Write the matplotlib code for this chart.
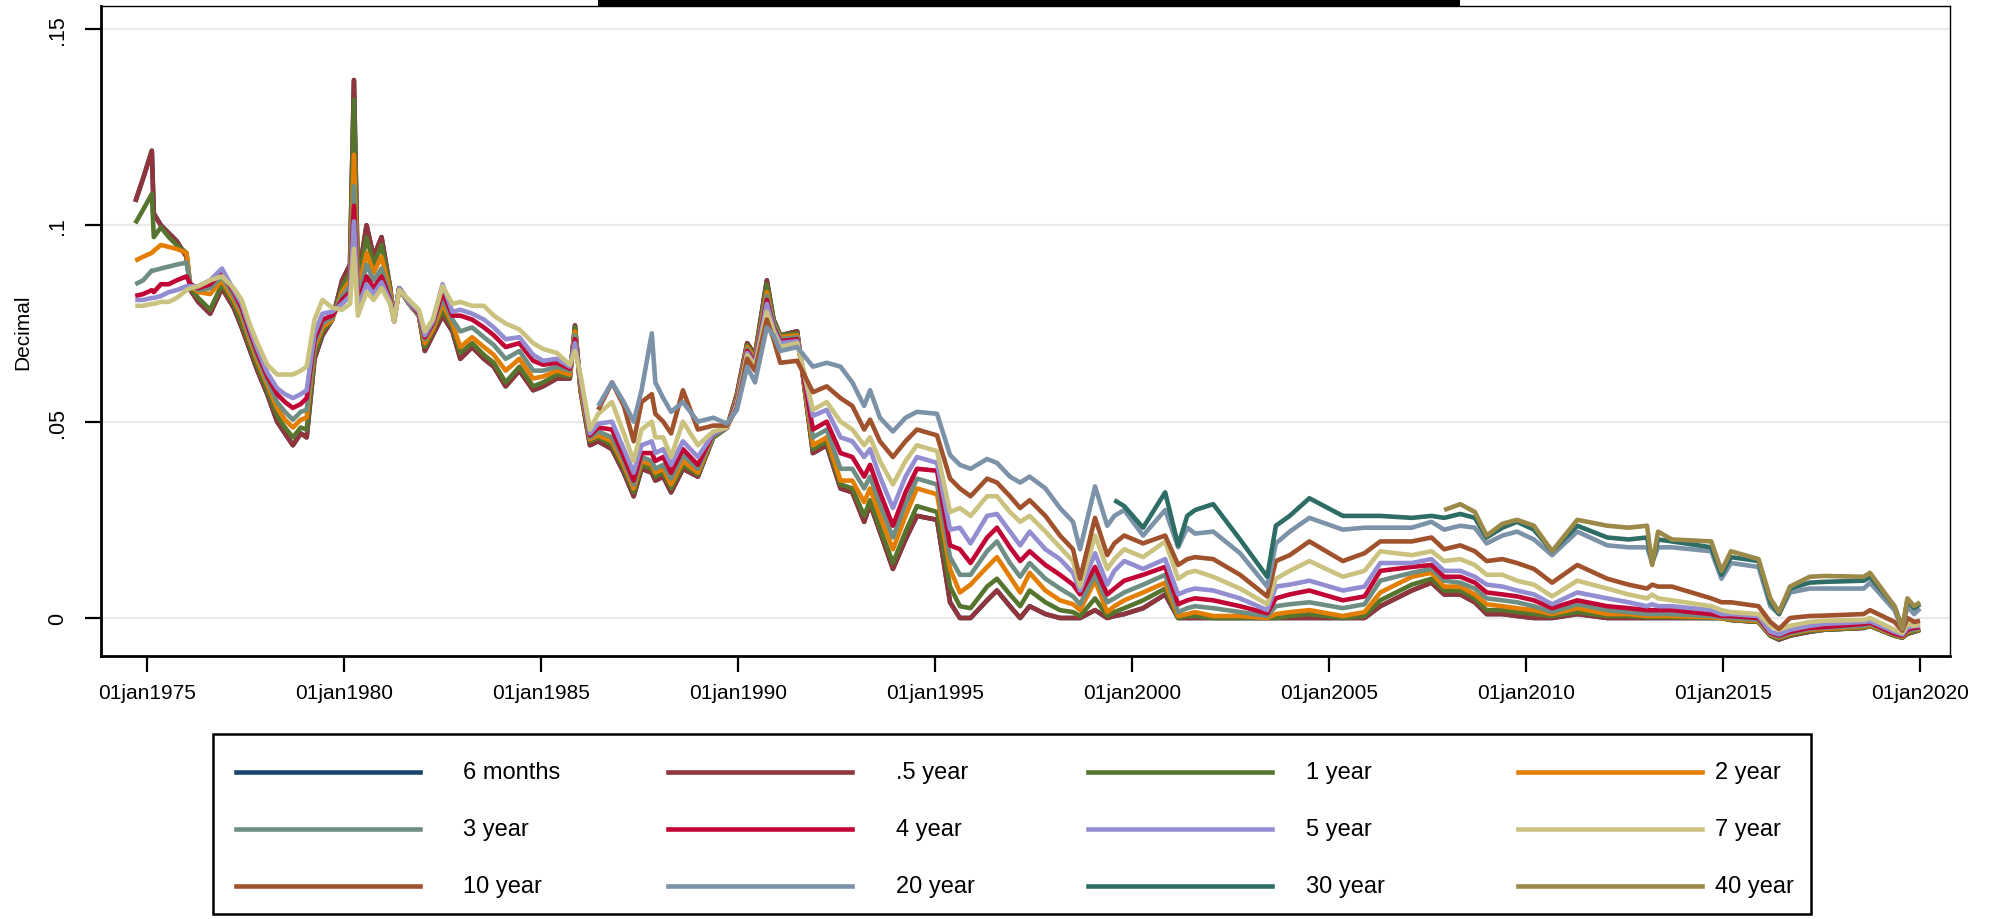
import numpy as np
import matplotlib
matplotlib.use("Agg")
import matplotlib.pyplot as plt
from matplotlib.lines import Line2D
from matplotlib.patches import Rectangle

plt.rcParams['font.family'] = ['Liberation Sans', 'DejaVu Sans']

# Observation dates (decimal years)
dates = [
    1974.70, 1974.90, 1975.12, 1975.17, 1975.35, 1975.55, 1975.75, 1976.00, 1976.10, 1976.30,
    1976.60, 1976.90, 1977.20, 1977.40, 1977.60, 1977.80, 1978.05, 1978.30, 1978.50, 1978.70,
    1978.90, 1979.05, 1979.25, 1979.45, 1979.70, 1979.95, 1980.15, 1980.25, 1980.35, 1980.57,
    1980.75, 1980.95, 1981.17, 1981.27, 1981.40, 1981.65, 1981.90, 1982.05, 1982.25, 1982.50,
    1982.75, 1982.95, 1983.25, 1983.55, 1983.80, 1984.10, 1984.45, 1984.80, 1985.05, 1985.40,
    1985.73, 1985.86, 1986.00, 1986.24, 1986.45, 1986.80, 1987.10, 1987.35, 1987.55, 1987.81,
    1987.90, 1988.10, 1988.30, 1988.60, 1988.98, 1989.37, 1989.72, 1989.97, 1990.23, 1990.43,
    1990.73, 1990.90, 1991.07, 1991.50, 1991.90, 1992.25, 1992.60, 1992.90, 1993.20, 1993.35,
    1993.60, 1993.93, 1994.25, 1994.54, 1995.05, 1995.38, 1995.63, 1995.90, 1996.32, 1996.57,
    1996.90, 1997.16, 1997.40, 1997.80, 1998.17, 1998.50, 1998.68, 1999.06, 1999.37, 1999.55,
    1999.80, 2000.28, 2000.84, 2001.17, 2001.40, 2001.60, 2002.06, 2002.74, 2003.43, 2003.65,
    2004.00, 2004.50, 2005.35, 2005.90, 2006.30, 2007.10, 2007.60, 2007.92, 2008.33, 2008.70,
    2009.00, 2009.40, 2009.77, 2010.20, 2010.66, 2011.30, 2012.06, 2012.60, 2013.07, 2013.20,
    2013.35, 2013.70, 2014.70, 2014.96, 2015.20, 2015.90, 2016.20, 2016.42, 2016.70, 2017.20,
    2017.56, 2018.57, 2018.73, 2019.35, 2019.55, 2019.68, 2019.85, 2020.00,
]

# Yields in percent; longer maturities begin later and run to the last date
half_year = [
    10.6, 11.2, 11.9, 10.3, 10.0, 9.8, 9.6, 9.2, 8.35, 8.05,
    7.75, 8.4, 7.9, 7.4, 6.85, 6.3, 5.7, 5.0, 4.7, 4.4,
    4.7, 4.6, 6.6, 7.2, 7.6, 8.6, 9.0, 13.7, 8.6, 10.0,
    9.2, 9.7, 8.4, 7.6, 8.4, 8.0, 7.7, 6.8, 7.2, 7.7,
    7.3, 6.6, 6.9, 6.6, 6.4, 5.9, 6.3, 5.8, 5.9, 6.1,
    6.1, 7.45, 5.8, 4.4, 4.5, 4.3, 3.7, 3.1, 3.8, 3.7,
    3.5, 3.6, 3.2, 3.8, 3.6, 4.6, 4.85, 5.7, 7.0, 6.7,
    8.6, 7.6, 7.2, 7.3, 4.2, 4.4, 3.3, 3.2, 2.45, 2.9,
    2.2, 1.25, 2.0, 2.6, 2.5, 0.4, 0.0, 0.0, 0.45, 0.7,
    0.3, 0.0, 0.3, 0.1, 0.0, 0.0, 0.0, 0.2, 0.0, 0.05,
    0.1, 0.25, 0.6, 0.0, 0.0, 0.0, 0.0, 0.0, 0.0, 0.0,
    0.0, 0.0, 0.0, 0.0, 0.3, 0.7, 0.9, 0.6, 0.6, 0.4,
    0.1, 0.1, 0.05, 0.0, 0.0, 0.1, 0.0, 0.0, 0.0, 0.0,
    0.0, 0.0, 0.0, 0.0, -0.05, -0.1, -0.45, -0.55, -0.45, -0.35,
    -0.3, -0.25, -0.2, -0.45, -0.5, -0.4, -0.35, -0.3,
]
# the 6-month series coincides with the .5-year series
six_months = list(half_year)
one_year = [
    10.05, 10.4, 10.8, 9.7, 9.95, 9.7, 9.5, 9.3, 8.4, 8.15,
    7.85, 8.5, 8.0, 7.5, 6.95, 6.4, 5.8, 5.15, 4.85, 4.6,
    4.85, 4.8, 6.7, 7.3, 7.6, 8.45, 8.8, 13.2, 8.5, 9.7,
    9.0, 9.5, 8.4, 7.6, 8.4, 8.0, 7.7, 6.9, 7.3, 7.85,
    7.4, 6.75, 7.0, 6.7, 6.5, 6.0, 6.4, 5.9, 6.0, 6.2,
    6.15, 7.4, 5.85, 4.5, 4.6, 4.4, 3.8, 3.2, 3.9, 3.8,
    3.6, 3.7, 3.3, 3.9, 3.65, 4.6, 4.85, 5.65, 6.95, 6.65,
    8.5, 7.6, 7.2, 7.25, 4.3, 4.5, 3.4, 3.3, 2.6, 3.0,
    2.3, 1.4, 2.2, 2.85, 2.7, 0.8, 0.3, 0.25, 0.8, 1.0,
    0.6, 0.3, 0.7, 0.4, 0.2, 0.15, 0.05, 0.5, 0.05, 0.15,
    0.25, 0.45, 0.75, 0.0, 0.05, 0.05, 0.0, 0.0, 0.0, 0.0,
    0.05, 0.1, 0.0, 0.05, 0.45, 0.85, 1.0, 0.7, 0.7, 0.5,
    0.2, 0.2, 0.15, 0.1, 0.05, 0.15, 0.05, 0.05, 0.02, 0.02,
    0.02, 0.02, 0.0, 0.0, -0.05, -0.1, -0.45, -0.53, -0.43, -0.33,
    -0.3, -0.25, -0.2, -0.45, -0.5, -0.38, -0.35, -0.3,
]
two_year = [
    9.1, 9.2, 9.3, 9.35, 9.5, 9.45, 9.4, 9.3, 8.45, 8.3,
    8.25, 8.6, 8.1, 7.7, 7.1, 6.55, 5.95, 5.35, 5.05, 4.85,
    5.05, 5.1, 6.9, 7.4, 7.6, 8.3, 8.6, 11.8, 8.3, 9.3,
    8.8, 9.2, 8.3, 7.6, 8.4, 8.0, 7.7, 7.0, 7.35, 8.0,
    7.5, 6.9, 7.15, 6.9, 6.7, 6.3, 6.6, 6.1, 6.15, 6.3,
    6.2, 7.3, 5.9, 4.55, 4.65, 4.5, 3.9, 3.3, 4.0, 3.9,
    3.7, 3.8, 3.4, 4.0, 3.7, 4.65, 4.85, 5.6, 6.9, 6.6,
    8.3, 7.5, 7.15, 7.2, 4.4, 4.6, 3.5, 3.5, 2.95, 3.3,
    2.6, 1.75, 2.6, 3.3, 3.15, 1.25, 0.65, 0.85, 1.3, 1.55,
    1.05, 0.65, 1.15, 0.7, 0.45, 0.35, 0.2, 0.95, 0.15, 0.3,
    0.45, 0.65, 0.9, 0.05, 0.1, 0.15, 0.05, 0.05, 0.0, 0.1,
    0.15, 0.2, 0.05, 0.15, 0.65, 1.05, 1.15, 0.8, 0.8, 0.6,
    0.35, 0.3, 0.25, 0.2, 0.1, 0.25, 0.1, 0.1, 0.05, 0.05,
    0.05, 0.05, 0.02, 0.0, -0.03, -0.08, -0.42, -0.5, -0.4, -0.3,
    -0.28, -0.22, -0.18, -0.43, -0.48, -0.35, -0.3, -0.28,
]
three_year = [
    8.5, 8.6, 8.85, 8.85, 8.9, 8.95, 9.0, 9.05, 8.5, 8.35,
    8.4, 8.7, 8.2, 7.8, 7.2, 6.65, 6.05, 5.5, 5.25, 5.05,
    5.25, 5.3, 7.0, 7.5, 7.65, 8.2, 8.45, 11.0, 8.1, 9.0,
    8.6, 8.9, 8.2, 7.6, 8.4, 8.0, 7.7, 7.1, 7.45, 8.15,
    7.6, 7.3, 7.4, 7.15, 6.95, 6.6, 6.8, 6.3, 6.3, 6.4,
    6.3, 7.2, 6.0, 4.6, 4.75, 4.6, 4.0, 3.4, 4.1, 4.0,
    3.8, 3.9, 3.55, 4.15, 3.8, 4.65, 4.85, 5.55, 6.85, 6.55,
    8.2, 7.5, 7.1, 7.15, 4.6, 4.8, 3.8, 3.8, 3.3, 3.6,
    2.9, 2.05, 2.9, 3.55, 3.4, 1.55, 1.1, 1.1, 1.7, 1.95,
    1.4, 1.05, 1.4, 1.0, 0.75, 0.55, 0.35, 1.1, 0.4, 0.5,
    0.65, 0.85, 1.1, 0.15, 0.25, 0.3, 0.25, 0.15, 0.05, 0.3,
    0.35, 0.4, 0.25, 0.35, 0.95, 1.15, 1.25, 0.95, 0.9, 0.75,
    0.5, 0.45, 0.4, 0.3, 0.15, 0.35, 0.2, 0.15, 0.1, 0.1,
    0.1, 0.1, 0.05, 0.02, 0.0, -0.05, -0.4, -0.48, -0.38, -0.28,
    -0.25, -0.2, -0.15, -0.42, -0.46, -0.32, -0.3, -0.25,
]
four_year = [
    8.2, 8.25, 8.35, 8.3, 8.5, 8.5, 8.6, 8.7, 8.5, 8.4,
    8.5, 8.8, 8.3, 7.9, 7.3, 6.75, 6.15, 5.7, 5.5, 5.35,
    5.45, 5.6, 7.1, 7.6, 7.7, 8.1, 8.3, 10.5, 8.0, 8.7,
    8.4, 8.7, 8.1, 7.55, 8.4, 8.05, 7.75, 7.15, 7.5, 8.3,
    7.7, 7.7, 7.6, 7.4, 7.2, 6.9, 7.0, 6.55, 6.45, 6.5,
    6.35, 7.1, 6.05, 4.65, 4.85, 4.8, 4.1, 3.5, 4.2, 4.2,
    4.0, 4.1, 3.7, 4.3, 3.9, 4.7, 4.85, 5.5, 6.8, 6.5,
    8.1, 7.4, 7.05, 7.1, 4.8, 5.0, 4.2, 4.1, 3.6, 3.9,
    3.2, 2.35, 3.2, 3.8, 3.75, 1.85, 1.75, 1.4, 2.05, 2.3,
    1.8, 1.45, 1.7, 1.35, 1.1, 0.85, 0.6, 1.3, 0.6, 0.75,
    0.95, 1.1, 1.3, 0.35, 0.45, 0.5, 0.45, 0.3, 0.12, 0.5,
    0.6, 0.7, 0.45, 0.55, 1.2, 1.3, 1.35, 1.05, 1.05, 0.9,
    0.65, 0.6, 0.55, 0.45, 0.25, 0.45, 0.3, 0.25, 0.2, 0.2,
    0.2, 0.2, 0.1, 0.05, 0.05, 0.0, -0.38, -0.45, -0.35, -0.25,
    -0.23, -0.15, -0.12, -0.4, -0.45, -0.3, -0.25, -0.23,
]
five_year = [
    8.1, 8.1, 8.15, 8.15, 8.2, 8.3, 8.35, 8.45, 8.45, 8.45,
    8.6, 8.9, 8.35, 8.0, 7.4, 6.85, 6.25, 5.85, 5.7, 5.6,
    5.7, 5.8, 7.25, 7.75, 7.8, 8.0, 8.2, 10.1, 7.9, 8.5,
    8.25, 8.55, 8.05, 7.55, 8.4, 8.05, 7.8, 7.2, 7.55, 8.5,
    7.8, 7.85, 7.75, 7.6, 7.4, 7.1, 7.15, 6.7, 6.55, 6.6,
    6.4, 7.0, 6.1, 4.7, 4.95, 5.0, 4.3, 3.7, 4.4, 4.5,
    4.2, 4.3, 3.9, 4.5, 4.1, 4.7, 4.85, 5.45, 6.75, 6.45,
    8.0, 7.35, 7.0, 7.05, 5.15, 5.3, 4.6, 4.5, 4.1, 4.3,
    3.6, 2.8, 3.6, 4.1, 3.95, 2.25, 2.3, 1.9, 2.6, 2.65,
    2.2, 1.85, 2.2, 1.75, 1.5, 1.15, 0.7, 1.65, 0.85, 1.2,
    1.45, 1.25, 1.5, 0.6, 0.7, 0.75, 0.7, 0.5, 0.2, 0.8,
    0.85, 0.95, 0.7, 0.8, 1.4, 1.4, 1.5, 1.2, 1.2, 1.05,
    0.85, 0.8, 0.7, 0.6, 0.35, 0.65, 0.5, 0.4, 0.3, 0.35,
    0.3, 0.3, 0.2, 0.1, 0.1, 0.05, -0.35, -0.42, -0.3, -0.2,
    -0.15, -0.1, -0.08, -0.35, -0.42, -0.25, -0.2, -0.2,
]
seven_year = [
    7.95, 7.95, 8.0, 8.0, 8.05, 8.05, 8.15, 8.35, 8.4, 8.45,
    8.6, 8.7, 8.4, 8.1, 7.5, 7.0, 6.45, 6.2, 6.2, 6.2,
    6.3, 6.4, 7.6, 8.1, 7.9, 7.85, 8.0, 9.4, 7.7, 8.3,
    8.1, 8.4, 8.0, 7.55, 8.35, 8.1, 7.85, 7.3, 7.6, 8.45,
    8.0, 8.05, 7.95, 7.95, 7.7, 7.5, 7.35, 7.0, 6.85, 6.75,
    6.45, 6.8, 6.2, 4.8, 5.2, 5.5, 4.7, 4.0, 4.8, 5.0,
    4.6, 4.6, 4.1, 5.0, 4.4, 4.75, 4.85, 5.4, 6.7, 6.4,
    7.8, 7.3, 6.9, 7.0, 5.3, 5.5, 5.0, 4.8, 4.4, 4.6,
    4.0, 3.4, 4.0, 4.4, 4.25, 2.7, 2.8, 2.6, 3.1, 3.1,
    2.7, 2.45, 2.6, 2.2, 1.8, 1.45, 0.8, 2.1, 1.25, 1.5,
    1.75, 1.55, 1.95, 1.0, 1.15, 1.2, 1.05, 0.75, 0.35, 1.0,
    1.2, 1.45, 1.05, 1.2, 1.7, 1.6, 1.7, 1.45, 1.5, 1.35,
    1.1, 1.1, 0.95, 0.85, 0.55, 0.95, 0.75, 0.6, 0.5, 0.6,
    0.5, 0.45, 0.3, 0.2, 0.15, 0.1, -0.2, -0.3, -0.2, -0.1,
    -0.07, -0.05, 0.0, -0.3, -0.38, -0.15, -0.2, -0.15,
]
ten_year = [
    5.3, 6.0, 5.4, 4.5, 5.5, 5.7,
    5.2, 5.0, 4.7, 5.8, 4.8, 4.9, 4.9, 5.35, 6.6, 6.3,
    7.6, 7.1, 6.5, 6.55, 5.75, 5.9, 5.6, 5.4, 4.8, 5.05,
    4.5, 4.1, 4.5, 4.8, 4.65, 3.55, 3.3, 3.1, 3.55, 3.45,
    3.1, 2.8, 3.0, 2.6, 2.1, 1.75, 1.0, 2.55, 1.6, 1.9,
    2.1, 1.9, 2.1, 1.35, 1.5, 1.55, 1.5, 1.1, 0.55, 1.45,
    1.6, 1.95, 1.45, 1.65, 1.95, 1.95, 2.05, 1.75, 1.85, 1.7,
    1.45, 1.5, 1.4, 1.25, 0.9, 1.35, 1.0, 0.85, 0.75, 0.85,
    0.8, 0.8, 0.5, 0.4, 0.4, 0.3, -0.1, -0.28, 0.0, 0.05,
    0.06, 0.1, 0.2, -0.1, -0.32, 0.0, -0.1, -0.07,
]
twenty_year = [
    5.4, 6.0, 5.5, 5.0, 5.8, 7.25,
    6.0, 5.6, 5.25, 5.5, 5.0, 5.1, 4.95, 5.3, 6.4, 6.0,
    7.4, 7.2, 6.8, 6.9, 6.4, 6.5, 6.4, 6.0, 5.4, 5.8,
    5.1, 4.75, 5.1, 5.25, 5.2, 4.15, 3.9, 3.8, 4.05, 3.95,
    3.6, 3.45, 3.6, 3.3, 2.8, 2.45, 1.75, 3.35, 2.35, 2.6,
    2.75, 2.1, 2.75, 1.8, 2.3, 2.15, 2.2, 1.65, 0.8, 1.9,
    2.2, 2.55, 2.25, 2.3, 2.3, 2.3, 2.45, 2.25, 2.35, 2.3,
    1.9, 2.1, 2.2, 2.0, 1.6, 2.2, 1.85, 1.8, 1.8, 1.4,
    1.8, 1.8, 1.7, 1.0, 1.4, 1.3, 0.3, 0.1, 0.65, 0.75,
    0.75, 0.75, 0.9, 0.2, -0.28, 0.3, 0.1, 0.24,
]
thirty_year = [
    3.0,
    2.85, 2.3, 3.2, 1.85, 2.6, 2.75, 2.9, 2.0, 1.05, 2.35,
    2.6, 3.05, 2.6, 2.6, 2.6, 2.55, 2.6, 2.55, 2.65, 2.55,
    2.05, 2.3, 2.45, 2.25, 1.7, 2.35, 2.05, 2.0, 2.05, 1.4,
    2.0, 1.95, 1.8, 1.1, 1.55, 1.45, 0.4, 0.1, 0.75, 0.9,
    0.92, 0.95, 1.05, 0.3, -0.25, 0.45, 0.25, 0.35,
]
forty_year = [
    2.75, 2.9, 2.7,
    2.1, 2.4, 2.5, 2.35, 1.7, 2.5, 2.35, 2.3, 2.35, 1.35,
    2.2, 2.0, 1.95, 1.2, 1.7, 1.5, 0.5, 0.15, 0.8, 1.05,
    1.07, 1.05, 1.15, 0.3, -0.28, 0.5, 0.3, 0.4,
]

labels = ["6 months", ".5 year", "1 year", "2 year",
          "3 year", "4 year", "5 year", "7 year",
          "10 year", "20 year", "30 year", "40 year"]
values = [six_months, half_year, one_year, two_year,
          three_year, four_year, five_year, seven_year,
          ten_year, twenty_year, thirty_year, forty_year]
colors = ["#1a476f", "#90353b", "#55752f", "#e37e00",
          "#6e8e84", "#c10534", "#938dd2", "#cac27e",
          "#a0522d", "#7b92a8", "#2d6d66", "#9c8847"]

W, H = 1989, 920
fig = plt.figure(figsize=(W / 100, H / 100), dpi=100)
fig.patch.set_facecolor("white")

# plot region in pixels: left 101, right 1950, top 7, bottom 657
ax = fig.add_axes([101 / W, 1 - 657 / H, (1950 - 101) / W, (657 - 7) / H])

LW = 3.3
dates_arr = np.array(dates)
for lab, v, c in zip(labels, values, colors):
    y = np.array(v, dtype=float) / 100.0
    x = dates_arr[len(dates_arr) - len(y):]
    ax.plot(x, y, color=c, lw=LW, solid_joinstyle="round", solid_capstyle="butt")

ax.set_xlim(1973.83, 2020.76)
ax.set_ylim(-0.00968, 0.15586)

years = list(range(1975, 2021, 5))
ax.set_xticks(years)
ax.set_xticklabels([f"01jan{yr}" for yr in years])
yt = [0, 0.05, 0.1, 0.15]
ax.set_yticks(yt)
ax.set_yticklabels(["0", ".05", ".1", ".15"], rotation=90, va="center")

ax.tick_params(axis="both", direction="out", length=11.5, width=1.6,
               labelsize=15, color="black")
ax.tick_params(axis="x", pad=8)
ax.tick_params(axis="y", pad=12, labelsize=15.5)

ax.set_axisbelow(True)
ax.yaxis.grid(True, color="#eaeaea", lw=1.6)

for side in ("left", "bottom"):
    ax.spines[side].set_linewidth(2.0)
for side in ("top", "right"):
    ax.spines[side].set_linewidth(1.0)

fig.text(23 / W, 1 - 332 / H, "Decimal", rotation=90, ha="center",
         va="center", fontsize=15)

# title strip at the top edge
fig.patches.append(Rectangle((598 / W, 1 - 8 / H), (1460 - 598) / W, 8 / H + 0.01,
                             transform=fig.transFigure, facecolor="black",
                             edgecolor="none", zorder=5))

# legend box
fig.patches.append(Rectangle((213 / W, 1 - 915 / H), (1811 - 213) / W, (915 - 735) / H,
                             transform=fig.transFigure, facecolor="white",
                             edgecolor="black", lw=1.8, zorder=3))
col_line_x = [236, 668, 1088, 1518]
col_text_x = [463, 896, 1306, 1715]
row_y = [773, 830, 887]
for i, (lab, c) in enumerate(zip(labels, colors)):
    r, k = divmod(i, 4)
    yy = 1 - row_y[r] / H
    x0 = col_line_x[k]
    fig.add_artist(Line2D([x0 / W, (x0 + 184) / W], [yy, yy], color=c, lw=LW,
                          transform=fig.transFigure, zorder=4))
    fig.text(col_text_x[k] / W, yy, lab, ha="left", va="center", fontsize=17,
             zorder=4)

fig.savefig("out.png", dpi=100)
